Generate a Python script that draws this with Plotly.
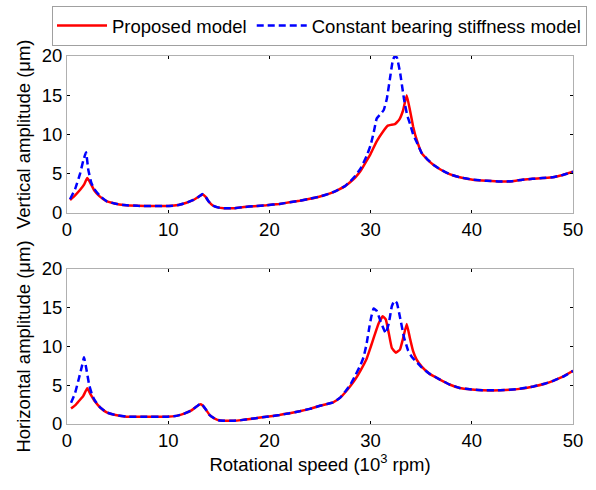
import plotly.graph_objects as go
from plotly.subplots import make_subplots

# ---- Vertical amplitude (top) ----
v_prop_x = [0.3, 0.8, 1.3, 1.7, 2.0, 2.3, 2.7, 3.2, 3.9, 4.7, 5.6, 7, 8.5, 10, 11, 11.8, 12.5, 13.0, 13.4, 13.7,
            14.0, 14.4, 14.9, 15.5, 16.5, 17.5, 18.5, 19.7, 21, 22, 23, 24, 25, 26, 26.8, 27.5, 28, 28.5, 29, 29.6,
            30, 30.6, 31.2, 31.7, 32.0, 32.4, 32.8, 33.2, 33.57, 33.9, 34.2, 34.55, 35.05, 35.6, 36.2, 36.9, 37.8,
            38.8, 40.1, 41.5, 42.8, 44, 45, 46, 47, 48, 49, 50]
v_prop_y = [1.6, 2.2, 2.9, 3.6, 4.4, 3.8, 2.8, 2.1, 1.45, 1.15, 0.95, 0.85, 0.82, 0.82, 0.95, 1.25, 1.6, 2.0, 2.3, 2.0,
            1.4, 0.9, 0.65, 0.55, 0.55, 0.7, 0.8, 0.92, 1.1, 1.3, 1.5, 1.75, 2.05, 2.45, 2.9, 3.4, 3.9, 4.5, 5.3, 6.6,
            7.5, 9.1, 10.3, 11.1, 11.2, 11.3, 11.8, 13.0, 15.0, 13.0, 11.0, 9.3, 7.6, 6.8, 6.1, 5.5, 4.9,
            4.5, 4.2, 4.05, 3.95, 4.0, 4.2, 4.3, 4.4, 4.5, 4.8, 5.2]

v_const_x = [0.3, 0.8, 1.3, 1.6, 1.88, 2.1, 2.4, 2.7, 3.2, 3.9, 4.7, 5.6, 7, 8.5, 10, 11, 11.8, 12.5, 13.0, 13.4, 13.7,
             14.0, 14.4, 14.9, 15.5, 16.5, 17.5, 18.5, 19.7, 21, 22, 23, 24, 25, 26, 26.8, 27.5, 28, 28.5, 29, 29.6,
             30.0, 30.3, 30.6, 31.0, 31.3, 31.6, 31.9, 32.2, 32.4, 32.6, 32.9, 33.3, 33.6, 33.9, 34.2, 34.55, 35.05,
             35.6, 36.2, 36.9, 37.8, 38.8, 40.1, 41.5, 42.8, 44, 45, 46, 47, 48, 49, 50]
v_const_y = [1.7, 3.0, 5.0, 6.6, 7.7, 5.5, 3.8, 3.0, 2.2, 1.45, 1.15, 0.95, 0.85, 0.82, 0.82, 0.95, 1.25, 1.6, 2.0, 2.35, 2.0,
             1.4, 0.9, 0.65, 0.55, 0.55, 0.7, 0.8, 0.92, 1.1, 1.3, 1.5, 1.75, 2.05, 2.45, 2.9, 3.4, 4.0, 4.7, 5.6, 7.2,
             8.6, 10.2, 12.0, 12.6, 13.1, 14.5, 17.0, 19.5, 20.0, 19.8, 18.0, 14.5, 12.5, 11.3, 10.0, 9.0, 7.6,
             6.8, 6.1, 5.5, 4.9, 4.5, 4.2, 4.05, 3.95, 4.0, 4.2, 4.3, 4.4, 4.5, 4.8, 5.2]

# ---- Horizontal amplitude (bottom) ----
h_prop_x = [0.4, 0.8, 1.2, 1.6, 2.0, 2.3, 2.77, 3.3, 3.92, 4.8, 5.9, 7.5, 9.85, 10.8, 11.5, 12.3, 12.8, 13.15, 13.4,
            13.7, 14.1, 14.6, 15.1, 16.4, 17.2, 18.1, 19.7, 21, 22, 23, 24, 25, 26.3, 27, 27.5, 28, 28.5, 29, 29.6,
            30.0, 30.4, 30.8, 31.2, 31.5, 31.8, 32.1, 32.5, 32.9, 33.2, 33.57, 33.9, 34.2, 34.55, 35.05, 35.8, 36.9,
            37.8, 38.8, 40, 41.1, 42.8, 44.5, 46.1, 47.2, 48.1, 49, 50]
h_prop_y = [2.0, 2.4, 3.0, 3.6, 4.6, 3.9, 2.9, 2.1, 1.5, 1.15, 0.95, 0.94, 0.94, 1.05, 1.3, 1.75, 2.25, 2.55, 2.4,
            1.9, 1.15, 0.7, 0.45, 0.42, 0.5, 0.65, 0.94, 1.15, 1.4, 1.65, 1.95, 2.35, 2.8, 3.4, 4.1, 4.9, 5.8, 6.9, 8.4,
            9.9, 11.5, 13.0, 13.9, 13.5, 11.7, 9.8, 9.2, 9.6, 11.0, 12.9, 11.0, 9.4, 8.3, 7.4, 6.5, 5.7,
            5.1, 4.65, 4.45, 4.35, 4.35, 4.5, 4.85, 5.2, 5.6, 6.1, 6.85]

h_const_x = [0.4, 0.8, 1.2, 1.5, 1.68, 1.9, 2.2, 2.5, 2.77, 3.3, 3.92, 4.8, 5.9, 7.5, 9.85, 10.8, 11.5, 12.3, 12.8, 13.15,
             13.4, 13.7, 14.1, 14.6, 15.1, 16.4, 17.2, 18.1, 19.7, 21, 22, 23, 24, 25, 26.3, 27, 27.5, 28, 28.5, 29,
             29.3, 29.6, 29.9, 30.1, 30.3, 30.6, 31.0, 31.5, 31.8, 32.1, 32.35, 32.6, 32.9, 33.3, 33.7, 34.1, 34.55,
             35.05, 35.8, 36.9, 37.8, 38.8, 40, 41.1, 42.8, 44.5, 46.1, 47.2, 48.1, 49, 50]
h_const_y = [2.75, 4.0, 6.0, 7.6, 8.6, 7.2, 5.0, 3.7, 3.0, 2.1, 1.5, 1.15, 0.95, 0.94, 0.94, 1.05, 1.3, 1.75, 2.25, 2.6,
             2.45, 1.9, 1.15, 0.7, 0.45, 0.42, 0.5, 0.65, 0.94, 1.15, 1.4, 1.65, 1.95, 2.35, 2.8, 3.4, 4.2, 5.1, 6.3, 7.6,
             8.6, 10.3, 12.7, 14.0, 14.9, 14.6, 13.2, 11.7, 13.0, 15.2, 15.9, 15.6, 13.8, 11.2, 9.5, 8.6, 8.0,
             7.3, 6.5, 5.7, 5.1, 4.65, 4.45, 4.35, 4.35, 4.5, 4.85, 5.2, 5.6, 6.1, 6.85]

x_ticks = [0, 10, 20, 30, 40, 50]
y_ticks = [0, 5, 10, 15, 20]

FONT = "Liberation Sans, Arial, sans-serif"
RED = "#ff0000"
BLUE = "#0000ff"

H = 490 - 56 - 66
W = 596 - 67 - 23
fig = make_subplots(rows=2, cols=1, shared_xaxes=False, vertical_spacing=0.02)

fig.add_trace(go.Scatter(x=v_prop_x, y=v_prop_y, mode="lines", name="Proposed model",
                         line=dict(color=RED, width=2.5, shape="spline", smoothing=0.3), legendgroup="p"), row=1, col=1)
fig.add_trace(go.Scatter(x=v_const_x, y=v_const_y, mode="lines", name="Constant bearing stiffness model",
                         line=dict(color=BLUE, width=2.5, dash="7px,4px", shape="spline", smoothing=0.3), legendgroup="c"), row=1, col=1)
fig.add_trace(go.Scatter(x=h_prop_x, y=h_prop_y, mode="lines", name="Proposed model", showlegend=False,
                         line=dict(color=RED, width=2.5, shape="spline", smoothing=0.3), legendgroup="p"), row=2, col=1)
fig.add_trace(go.Scatter(x=h_const_x, y=h_const_y, mode="lines", name="Constant bearing stiffness model", showlegend=False,
                         line=dict(color=BLUE, width=2.5, dash="7px,4px", shape="spline", smoothing=0.3), legendgroup="c"), row=2, col=1)

axis_common = dict(showline=True, linecolor="#b0b0b0", linewidth=1, mirror="ticks",
                   ticks="inside", ticklen=3, tickcolor="#000000", showgrid=False, zeroline=False,
                   tickfont=dict(family=FONT, size=18.5, color="#000000"))

fig.update_xaxes(range=[0, 50], tickvals=x_ticks, **axis_common)
fig.update_yaxes(range=[0, 20], tickvals=y_ticks, **axis_common)

fig.update_layout(
    width=596, height=490,
    margin=dict(l=67, r=23, t=56, b=66, autoexpand=False),
    paper_bgcolor="white", plot_bgcolor="white",
    font=dict(family=FONT, color="#000000"),
    xaxis=dict(domain=[0, 1]),
    yaxis=dict(domain=[(424 - 212.5) / H, 1],
               title=dict(text="Vertical amplitude (μm)", font=dict(size=18.5), standoff=6)),
    xaxis2=dict(domain=[0, 1],
                title=dict(text="Rotational speed (10<sup>3</sup> rpm)", font=dict(size=18.5), standoff=7)),
    yaxis2=dict(domain=[0, (424 - 269) / H],
                title=dict(text="Horizontal amplitude (μm)", font=dict(size=18.5), standoff=6)),
    legend=dict(orientation="h", x=(52 - 67) / W, xanchor="left", y=1 + (56 - 6) / H, yanchor="top",
                bordercolor="#a0a0a0", borderwidth=1, bgcolor="white",
                font=dict(family=FONT, size=18.5), itemwidth=50, tracegroupgap=0),
    showlegend=True,
)

fig.write_html("out.html")
